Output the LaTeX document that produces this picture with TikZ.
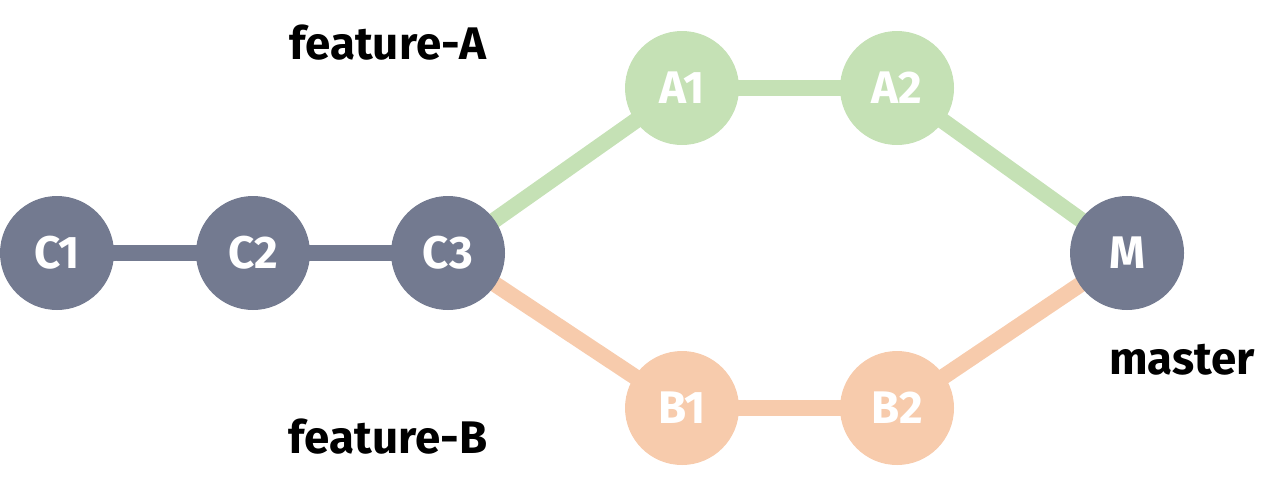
\documentclass[tikz,border=0pt]{standalone}
\usepackage{fontspec}
\setmainfont{Fira Sans}
\usetikzlibrary{backgrounds}
\definecolor{commitgray}{HTML}{737A90}
\definecolor{featgreen}{HTML}{C5E1B5}
\definecolor{feator}{HTML}{F7CBAC}

\begin{document}
\begin{tikzpicture}
\useasboundingbox (0,0) rectangle (12.8,4.9);
\begin{scope}[every node/.style={circle,fill=commitgray,minimum size=1.14cm,inner sep=0pt,text=white,font=\bfseries\fontsize{13}{15}\selectfont}]
    \node (C1) at (0.57,2.37) {C1};
    \node (C2) at (2.53,2.37) {C2};
    \node (C3) at (4.48,2.37) {C3};
    \node (M) at (11.27,2.37) {M};
\end{scope}
\begin{scope}[every node/.style={circle,fill=featgreen,minimum size=1.14cm,inner sep=0pt,text=white,font=\bfseries\fontsize{13}{15}\selectfont}]
    \node (A1) at (6.82,4.02) {A1};
    \node (A2) at (8.97,4.02) {A2};
\end{scope}
\begin{scope}[every node/.style={circle,fill=feator,minimum size=1.14cm,inner sep=0pt,text=white,font=\bfseries\fontsize{13}{15}\selectfont}]
    \node (B1) at (6.82,0.82) {B1};
    \node (B2) at (8.97,0.82) {B2};
\end{scope}
\begin{scope}[every node/.style={font=\bfseries\fontsize{13}{15}\selectfont}]
    \node (featA) at (3.88,4.47) {feature-A};
    \node (featB) at (3.88,0.53) {feature-B};
    \node (master) at (11.82,1.30) {master};
\end{scope}
\begin{scope}[on background layer,every edge/.style={draw,line width=0.16cm}]
    \path [commitgray] (C1.center) edge (C2.center);
    \path [commitgray] (C2.center) edge (C3.center);
    \path [featgreen] (C3.center) edge (A1.center);
    \path [featgreen] (A1.center) edge (A2.center);
    \path [featgreen] (A2.center) edge (M.center);
    \path [feator] (C3.center) edge (B1.center);
    \path [feator] (B1.center) edge (B2.center);
    \path [feator] (B2.center) edge (M.center);
\end{scope}
\end{tikzpicture}
\end{document}
